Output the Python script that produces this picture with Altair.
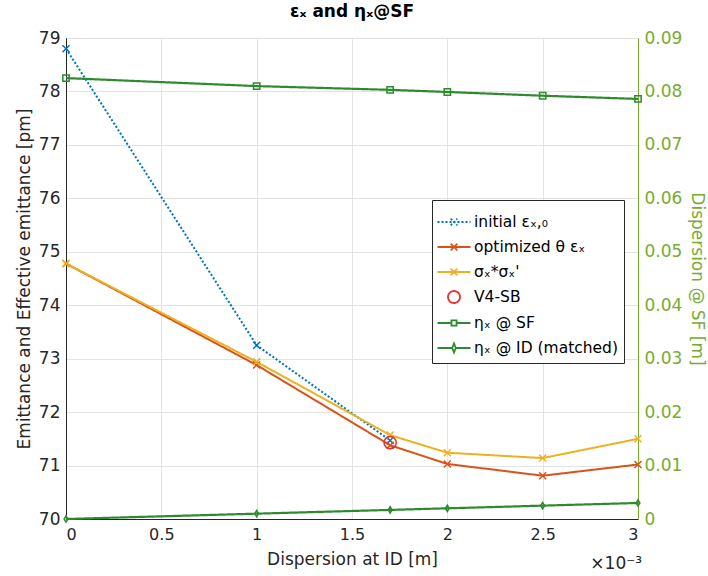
import altair as alt
import pandas as pd

# ---------------- data ----------------
x_disp = [0, 1, 1.7, 2, 2.5, 3]          # dispersion at ID, units of 1e-3 m
x_initial = [0, 1, 1.7]
eps_initial = [78.8, 73.25, 71.47]       # pm
eps_optimized = [74.78, 72.88, 71.38, 71.03, 70.81, 71.02]
sigma_product = [74.78, 72.94, 71.57, 71.24, 71.14, 71.50]
v4sb_x = [1.7]
v4sb_y = [71.43]
eta_sf = [0.0825, 0.0810, 0.0803, 0.0799, 0.0792, 0.0786]   # m
eta_id = [0.0, 0.001, 0.0017, 0.002, 0.0025, 0.003]         # m

series = ["initial εₓ,₀", "optimized θ εₓ", "σₓ*σₓ'", "V4-SB",
          "ηₓ @ SF", "ηₓ @ ID (matched)"]
colors = ["#0072BD", "#D95319", "#EDB120", "#E8302A", "#2E8A2E", "#2E8A2E"]
dashes = [[2, 2], [1, 0], [1, 0], [1, 0], [1, 0], [1, 0]]

x_ticks = [0, 0.5, 1, 1.5, 2, 2.5, 3]
y_left_ticks = [70, 71, 72, 73, 74, 75, 76, 77, 78, 79]
y_right_ticks = [0, 0.01, 0.02, 0.03, 0.04, 0.05, 0.06, 0.07, 0.08, 0.09]

# ---------------- tables ----------------
left_df = pd.concat([
    pd.DataFrame({"series": series[0], "x": x_initial, "y": eps_initial}),
    pd.DataFrame({"series": series[1], "x": x_disp, "y": eps_optimized}),
    pd.DataFrame({"series": series[2], "x": x_disp, "y": sigma_product}),
], ignore_index=True)
v4_df = pd.DataFrame({"series": series[3], "x": v4sb_x, "y": v4sb_y})
right_df = pd.concat([
    pd.DataFrame({"series": series[4], "x": x_disp, "eta": eta_sf}),
    pd.DataFrame({"series": series[5], "x": x_disp, "eta": eta_id}),
], ignore_index=True)
legend_df = pd.DataFrame({"series": series})

FONT = "DejaVu Sans"
W, H = 572, 481

xpath = "M-1,-1L1,1M-1,1L1,-1"
diam = "M0,-1L0.6,0L0,1L-0.6,0Z"
plot_shapes = [xpath, xpath, xpath, "circle", "square", diam]

leg_x = "M-1.1,0H1.1M-0.22,-0.22L0.22,0.22M-0.22,0.22L0.22,-0.22"
leg_circle = "M0.4,0A0.4,0.4,0,1,1,-0.4,0A0.4,0.4,0,1,1,0.4,0Z"
leg_sq = "M-1.1,0H-0.17M0.17,0H1.1M-0.17,-0.17H0.17V0.17H-0.17Z"
leg_dm = "M-1.1,0H-0.12M0.12,0H1.1M0,-0.3L0.12,0L0,0.3L-0.12,0Z"
legend_shapes = [leg_x, leg_x, leg_x, leg_circle, leg_sq, leg_dm]

x_enc = alt.X("x:Q", scale=alt.Scale(domain=[0, 3], nice=False),
              axis=alt.Axis(title="Dispersion at ID [m]", values=x_ticks,
                            format="~g", grid=True, ticks=False,
                            labelPadding=7, titlePadding=9))
color_enc = alt.Color("series:N", scale=alt.Scale(domain=series, range=colors), legend=None)
dash_enc = alt.StrokeDash("series:N", scale=alt.Scale(domain=series, range=dashes), legend=None)
shape_enc = alt.Shape("series:N", scale=alt.Scale(domain=series, range=plot_shapes), legend=None)

y_left = alt.Y("y:Q", scale=alt.Scale(domain=[70, 79], nice=False),
               axis=alt.Axis(title="Emittance and Effective emittance [pm]",
                             values=y_left_ticks, grid=True, ticks=False,
                             labelPadding=6, titlePadding=5, orient="left"))
y_right = alt.Y("eta:Q", scale=alt.Scale(domain=[0, 0.09], nice=False),
                axis=alt.Axis(title="Dispersion @ SF [m]", values=y_right_ticks,
                              format="~g", grid=False, ticks=False, orient="right",
                              labelPadding=6, titlePadding=6,
                              labelColor="#77AC30", titleColor="#77AC30",
                              domainColor="#77AC30"))

left_lines = alt.Chart(left_df).mark_line(strokeWidth=2).encode(
    x=x_enc, y=y_left, color=color_enc, strokeDash=dash_enc)
left_pts = alt.Chart(left_df).mark_point(filled=False, size=49, strokeWidth=1.5, opacity=1).encode(
    x=x_enc, y=y_left, color=color_enc, shape=shape_enc)
v4_pts = alt.Chart(v4_df).mark_point(filled=False, size=150, strokeWidth=1.5, opacity=1).encode(
    x=x_enc, y=y_left, color=color_enc, shape=shape_enc)
left_group = alt.layer(left_lines, left_pts, v4_pts)

right_lines = alt.Chart(right_df).mark_line(strokeWidth=2.2).encode(
    x=x_enc, y=y_right, color=color_enc, strokeDash=dash_enc)
right_pts = alt.Chart(right_df).mark_point(filled=False, size=40, strokeWidth=1.5, opacity=1).encode(
    x=x_enc, y=y_right, color=color_enc, shape=shape_enc)
right_group = alt.layer(right_lines, right_pts)

legend_layer = alt.Chart(legend_df).mark_point(opacity=0, filled=False).encode(
    color=alt.Color("series:N", scale=alt.Scale(domain=series, range=colors),
                    legend=alt.Legend(title=None, orient="none", legendX=366, legendY=162,
                                      fillColor="white", strokeColor="#262626",
                                      padding=6, symbolSize=900, symbolStrokeWidth=1.8,
                                      symbolOpacity=1, labelFont=FONT, labelFontSize=15.5,
                                      labelColor="#000000", labelOffset=4, rowPadding=0,
                                      labelLimit=300)),
    shape=alt.Shape("series:N", scale=alt.Scale(domain=series, range=legend_shapes),
                    legend=alt.Legend(title=None)),
    strokeDash=alt.StrokeDash("series:N", scale=alt.Scale(domain=series, range=dashes),
                              legend=alt.Legend(title=None)),
)

note = alt.Chart(pd.DataFrame({"t": ["×10⁻³"]})).mark_text(
    align="right", baseline="middle", font=FONT, fontSize=17, color="#262626"
).encode(text="t:N", x=alt.value(W + 4), y=alt.value(H + 45))

chart = alt.layer(left_group, right_group, legend_layer, note).resolve_scale(
    y="independent", color="independent", shape="independent", strokeDash="independent"
).properties(
    width=W, height=H,
    title=alt.TitleParams("εₓ and ηₓ@SF", font=FONT, fontSize=17, fontWeight="bold",
                          color="#000000", offset=8, anchor="middle"),
    padding={"left": 66, "top": 38, "right": 70, "bottom": 57},
    autosize=alt.AutoSizeParams(type="none"),
).configure_view(stroke="#262626", strokeWidth=1).configure_axis(
    labelFont=FONT, titleFont=FONT, labelFontSize=17, titleFontSize=17,
    labelColor="#262626", titleColor="#262626", domainColor="#262626",
    gridColor="#e3e3e3", titleFontWeight="normal"
).configure_axisX(labelFontSize=16)

chart.save("out.html", embed_options={"renderer": "svg", "actions": False})
